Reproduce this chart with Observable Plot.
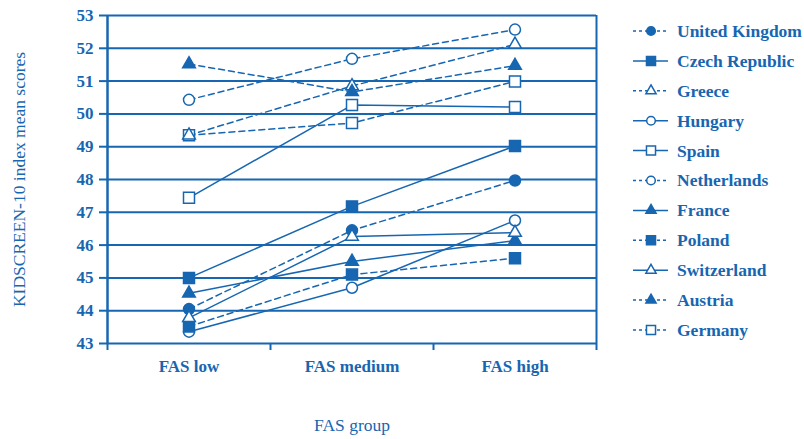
<!DOCTYPE html>
<html>
<head>
<meta charset="utf-8">
<script src="https://cdn.jsdelivr.net/npm/d3@7"></script>
<script src="https://cdn.jsdelivr.net/npm/@observablehq/plot@0.6"></script>
<style>
html, body { margin: 0; padding: 0; background: #fff; }
#wrap { position: relative; width: 804px; height: 439px; overflow: hidden; }
#legend { position: absolute; left: 620px; top: 0; }
</style>
</head>
<body>
<div id="wrap"><div id="chart"></div><svg id="legend" width="184" height="439"></svg></div>
<script>
// ---- data ----
const groups = ["FAS low", "FAS medium", "FAS high"];
const yTicks = [43, 44, 45, 46, 47, 48, 49, 50, 51, 52, 53];
const countries = ["United Kingdom", "Czech Republic", "Greece", "Hungary", "Spain",
  "Netherlands", "France", "Poland", "Switzerland", "Austria", "Germany"];
const unitedKingdom = [44.05, 46.45, 47.97];
const czechRepublic = [45.0, 47.18, 49.02];
const greece = [49.35, 50.85, 52.12];
const hungary = [43.36, 44.7, 46.75];
const spain = [47.44, 50.27, 50.21];
const netherlands = [50.43, 51.68, 52.57];
const france = [44.53, 45.5, 46.14];
const poland = [43.52, 45.1, 45.6];
const switzerland = [43.78, 46.26, 46.38];
const austria = [51.52, 50.67, 51.47];
const germany = [49.35, 49.72, 50.99];
const scores = [unitedKingdom, czechRepublic, greece, hungary, spain, netherlands,
  france, poland, switzerland, austria, germany];

// ---- styles (per series) ----
const lineDashed = [true, false, true, false, false, true, false, true, false, true, true];
const markerShape = ["circle", "square", "triangle", "circle", "square", "circle",
  "triangle", "square", "triangle", "triangle", "square"];
const markerFilled = [true, true, false, false, false, false, true, true, false, true, false];

const blue = "#1766b1";
const font = "'Liberation Serif', 'Times New Roman', serif";

const rows = [];
countries.forEach((c, ci) => {
  scores[ci].forEach((v, gi) => rows.push({
    country: c, ci, xi: gi, value: v,
    dashed: lineDashed[ci], shape: markerShape[ci],
    fillColor: markerFilled[ci] ? blue : "white"
  }));
});

const dotMark = (shape, r) => Plot.dot(rows.filter(d => d.shape === shape), {
  x: "xi", y: "value", symbol: shape, r, fill: "fillColor", stroke: blue, strokeWidth: 1.5
});

const chart = Plot.plot({
  width: 620,
  height: 439,
  marginLeft: 107,
  marginRight: 24,
  marginTop: 15,
  marginBottom: 96,
  style: { fontFamily: font, background: "white", color: blue, overflow: "visible" },
  x: { type: "linear", domain: [-0.5, 2.5], label: null },
  y: { domain: [43, 53], label: null },
  color: { type: "identity" },
  marks: [
    Plot.ruleY(yTicks, { stroke: blue, strokeWidth: 2 }),
    Plot.ruleX([-0.5], { stroke: blue, strokeWidth: 2.5 }),
    Plot.ruleX([2.5], { stroke: blue, strokeWidth: 2 }),
    Plot.axisY(yTicks, { tickSize: 8, tickPadding: 6, label: null, color: blue, strokeWidth: 2,
      fontSize: 17, fontWeight: "bold" }),
    Plot.axisX([-0.5, 0.5, 1.5, 2.5], { tickSize: 7, tickFormat: () => "", label: null, color: blue, strokeWidth: 2 }),
    Plot.axisX([0, 1, 2], { tickSize: 0, tickPadding: 16, tickFormat: i => groups[i], label: null,
      color: blue, fontSize: 17, fontWeight: "bold" }),
    Plot.line(rows.filter(d => !d.dashed), { x: "xi", y: "value", z: "country", stroke: blue, strokeWidth: 1.5 }),
    Plot.line(rows.filter(d => d.dashed), { x: "xi", y: "value", z: "country", stroke: blue, strokeWidth: 1.5,
      strokeDasharray: "6,4" }),
    dotMark("circle", 5.5),
    dotMark("square", 6.2),
    dotMark("triangle", 4.7),
    Plot.text(["KIDSCREEN-10 index mean scores"], { frameAnchor: "left", textAnchor: "middle", dx: -88, rotate: -90,
      fontSize: 17.5, fill: blue }),
    Plot.text(["FAS group"], { frameAnchor: "bottom", dy: 87, fontSize: 17.5, fill: blue })
  ]
});
document.getElementById("chart").appendChild(chart);

// ---- legend ----
const lg = d3.select("#legend").style("font-family", font);
const symType = { circle: d3.symbolCircle, square: d3.symbolSquare, triangle: d3.symbolTriangle };
const symR = { circle: 4.3, square: 5.1, triangle: 3.8 };
countries.forEach((c, i) => {
  const y = 31 + i * 29.9;
  const g = lg.append("g").attr("transform", `translate(0,${y})`);
  g.append("line").attr("x1", 13).attr("x2", 48).attr("y1", 0).attr("y2", 0)
    .attr("stroke", blue).attr("stroke-width", 1.5)
    .attr("stroke-dasharray", lineDashed[i] ? "3,3" : null);
  const r = symR[markerShape[i]];
  g.append("path")
    .attr("d", d3.symbol(symType[markerShape[i]], Math.PI * r * r)())
    .attr("transform", "translate(31,0)")
    .attr("fill", markerFilled[i] ? blue : "white")
    .attr("stroke", blue).attr("stroke-width", 1.5);
  g.append("text").attr("x", 57).attr("y", 0).attr("dy", "0.34em")
    .attr("fill", blue).attr("font-weight", "bold").attr("font-size", 17.5)
    .text(c);
});
</script>
</body>
</html>
